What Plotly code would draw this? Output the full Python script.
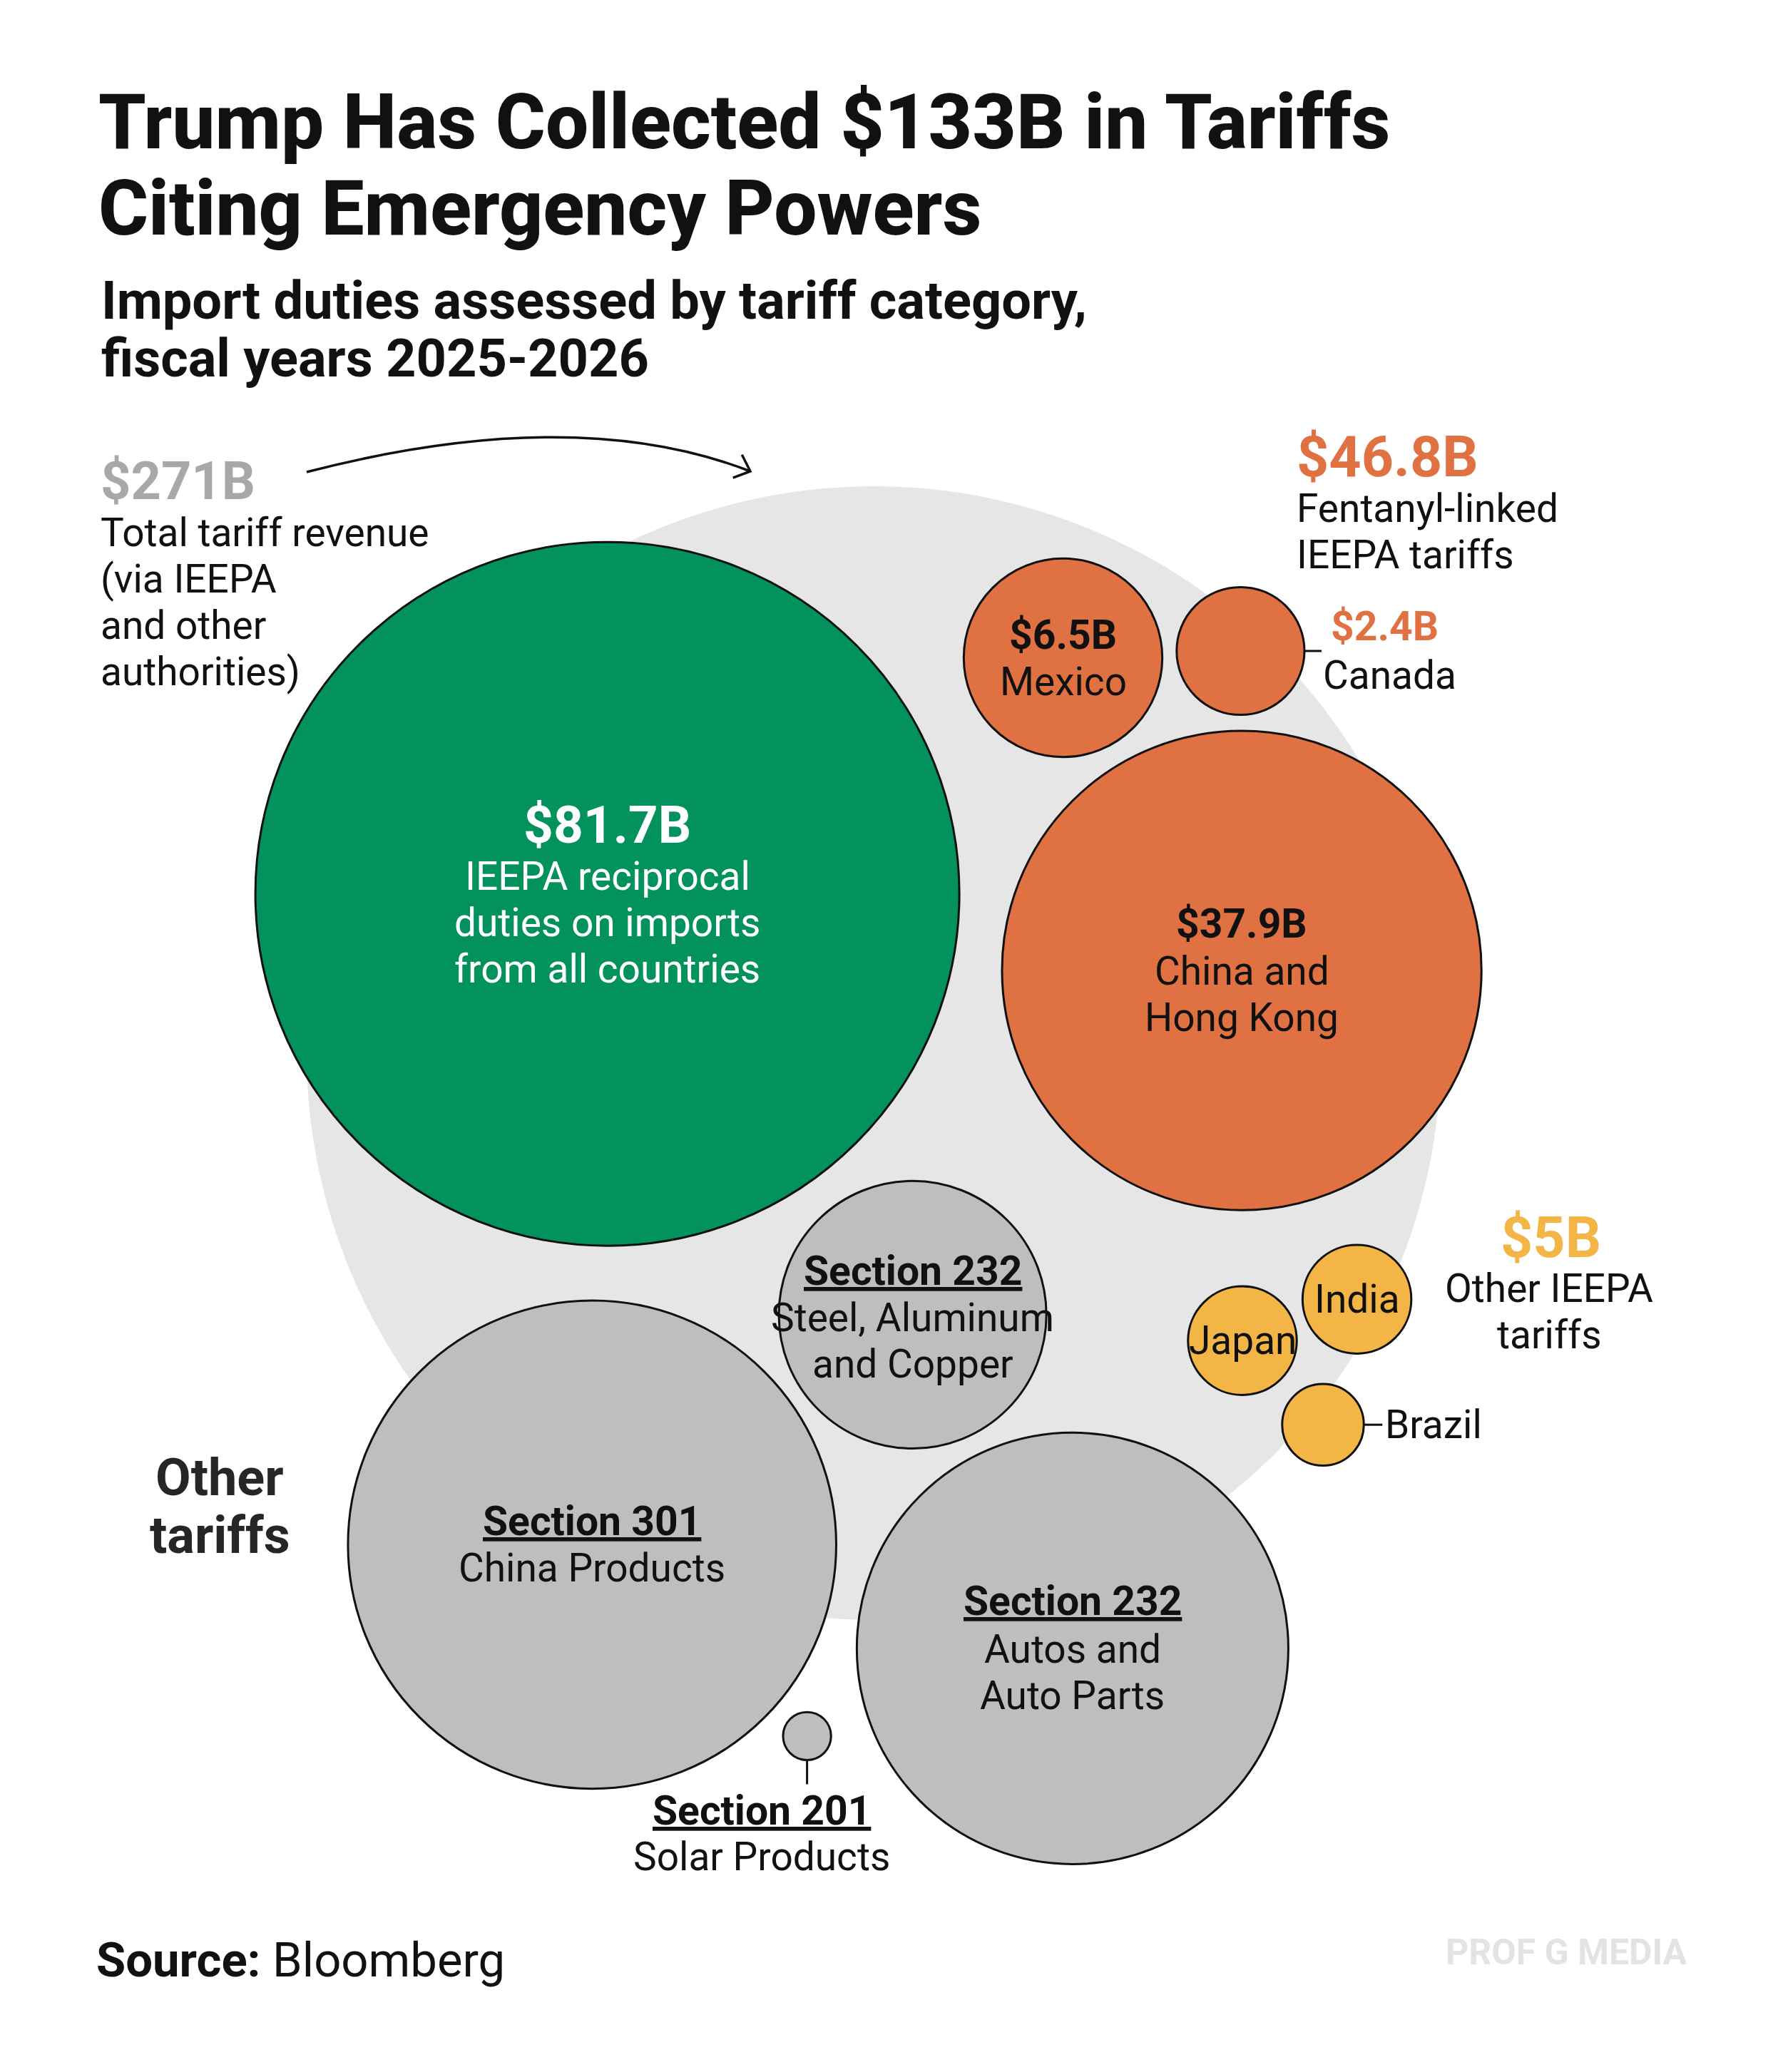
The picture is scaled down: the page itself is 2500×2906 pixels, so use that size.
import math
import plotly.graph_objects as go

W, H = 2500, 2906

# ---------------- data (US$ billions) ----------------
categories = [
    "IEEPA reciprocal duties", "China and Hong Kong", "Mexico", "Canada",
    "Japan", "India", "Brazil",
    "Section 301 China Products", "Section 232 Autos and Auto Parts",
    "Section 232 Steel, Aluminum and Copper", "Section 201 Solar Products",
]
values_bn = [81.7, 37.9, 6.5, 2.4, 1.95, 1.95, 1.1, 39.3, 30.7, 11.8, 0.38]
groups = ["reciprocal", "fentanyl", "fentanyl", "fentanyl",
          "other_ieepa", "other_ieepa", "other_ieepa",
          "other", "other", "other", "other"]
total_revenue_bn = 271
collected_bn = 133
fentanyl_total_bn = 46.8
other_ieepa_total_bn = 5

# ---------------- layout / style ----------------
K = 54.6  # px radius per sqrt($B)
centers = {
    "IEEPA reciprocal duties": (851.6, 1253.7),
    "China and Hong Kong": (1741.1, 1361.2),
    "Mexico": (1490.5, 922.5),
    "Canada": (1739.4, 913.0),
    "Japan": (1742.0, 1880.3),
    "India": (1902.6, 1822.2),
    "Brazil": (1855.0, 1998.2),
    "Section 301 China Products": (830.2, 2166.4),
    "Section 232 Autos and Auto Parts": (1503.9, 2311.9),
    "Section 232 Steel, Aluminum and Copper": (1279.6, 1843.9),
    "Section 201 Solar Products": (1131.6, 2434.8),
}
bg_center, bg_radius = (1225.0, 1477.0), 795.0

colors = {"reciprocal": "#03925d", "fentanyl": "#e07142",
          "other_ieepa": "#f3b646", "other": "#bdbec0"}
BG_GRAY = "#e6e6e6"
FONT = "Roboto, Noto Sans, sans-serif"
REG, BOLD = 55, 57

fig = go.Figure()
# invisible trace to instantiate axes
fig.add_trace(go.Scatter(x=[c[0] for c in centers.values()],
                         y=[c[1] for c in centers.values()],
                         mode="markers", marker=dict(opacity=0),
                         hoverinfo="skip", showlegend=False))

shapes = []
shapes.append(dict(type="circle", xref="x", yref="y",
                   x0=bg_center[0] - bg_radius, x1=bg_center[0] + bg_radius,
                   y0=bg_center[1] - bg_radius, y1=bg_center[1] + bg_radius,
                   fillcolor=BG_GRAY, line=dict(width=0), layer="below"))

radius = {}
for cat, v, g in zip(categories, values_bn, groups):
    r = K * math.sqrt(v)
    if cat == "Canada":
        r += 5  # slight visual padding as in the original
    radius[cat] = r
    cx, cy = centers[cat]
    shapes.append(dict(type="circle", xref="x", yref="y",
                       x0=cx - r, x1=cx + r, y0=cy - r, y1=cy + r,
                       fillcolor=colors[g], line=dict(color="#111111", width=3),
                       layer="above"))

# connectors
def hline(cat, length):
    cx, cy = centers[cat]
    r = radius[cat]
    shapes.append(dict(type="line", xref="x", yref="y", x0=cx + r, x1=cx + r + length,
                       y0=cy, y1=cy, line=dict(color="#111111", width=3)))

hline("Canada", 24)
hline("Brazil", 26)
cx, cy = centers["Section 201 Solar Products"]
r = radius["Section 201 Solar Products"]
shapes.append(dict(type="line", xref="x", yref="y", x0=cx, x1=cx, y0=cy + r, y1=cy + r + 34,
                   line=dict(color="#111111", width=3)))

# curved arrow
p0, pc, p2 = (430, 662), (805, 565), (1052, 661)
shapes.append(dict(type="path", xref="x", yref="y",
                   path=f"M {p0[0]},{p0[1]} Q {pc[0]},{pc[1]} {p2[0]},{p2[1]}",
                   line=dict(color="#111111", width=3.5)))
dx, dy = p2[0] - pc[0], p2[1] - pc[1]
ang = math.atan2(dy, dx)
wings = []
for s in (+1, -1):
    a = ang + math.pi + s * math.radians(42)
    wings.append((p2[0] + 26 * math.cos(a), p2[1] + 26 * math.sin(a)))
shapes.append(dict(type="path", xref="x", yref="y",
                   path=f"M {wings[0][0]:.1f},{wings[0][1]:.1f} L {p2[0]},{p2[1]} L {wings[1][0]:.1f},{wings[1][1]:.1f}",
                   line=dict(color="#111111", width=3.5)))

annotations = []

def txt(x, y, text, size=REG, color="#111111", xanchor="center", bold=False,
        underline=False, family=FONT, weight=None):
    f = dict(family=family, size=size, color=color)
    if bold:
        f["weight"] = weight if weight else "bold"
    if underline:
        f["lineposition"] = "under"
    annotations.append(dict(x=x, y=y, xref="x", yref="y", text=text, showarrow=False,
                            xanchor=xanchor, yanchor="middle", font=f))

def incircle(cat, lines):
    cx, cy = centers[cat]
    for (t, dyy, kw) in lines:
        txt(cx, cy + dyy, t, **kw)

incircle("IEEPA reciprocal duties", [
    ("$81.7B", -97, dict(size=73, bold=True, color="white")),
    ("IEEPA reciprocal", -25, dict(color="white")),
    ("duties on imports", 40, dict(color="white")),
    ("from all countries", 105, dict(color="white")),
])
incircle("China and Hong Kong", [
    ("$37.9B", -66, dict(size=BOLD, bold=True)),
    ("China and", 1, {}),
    ("Hong Kong", 66, {}),
])
incircle("Mexico", [
    ("$6.5B", -32, dict(size=BOLD, bold=True)),
    ("Mexico", 33, {}),
])
incircle("Section 232 Steel, Aluminum and Copper", [
    ("Section 232", -61, dict(size=BOLD, bold=True, underline=True)),
    ("Steel, Aluminum", 4, {}),
    ("and Copper", 69, {}),
])
incircle("Section 301 China Products", [
    ("Section 301", -33, dict(size=BOLD, bold=True, underline=True)),
    ("China Products", 33, {}),
])
incircle("Section 232 Autos and Auto Parts", [
    ("Section 232", -66, dict(size=BOLD, bold=True, underline=True)),
    ("Autos and", 1, {}),
    ("Auto Parts", 66, {}),
])
incircle("Japan", [("Japan", 0, {})])
incircle("India", [("India", 0, {})])

# Section 201 label
txt(1068, 2539, "Section 201", size=BOLD, bold=True, underline=True)
txt(1068, 2604, "Solar Products")
# Brazil label
txt(1940, 1998, "Brazil", xanchor="left")
# Canada label
txt(1864, 878, f"${values_bn[3]}B", size=BOLD, bold=True, color=colors["fentanyl"], xanchor="left")
txt(1853, 947, "Canada", xanchor="left")

# group labels
txt(1816, 641, f"${fentanyl_total_bn}B", size=79, bold=True, color=colors["fentanyl"], xanchor="left")
txt(1816, 713, "Fentanyl-linked", xanchor="left")
txt(1816, 778, "IEEPA tariffs", xanchor="left")

txt(2174, 1736, f"${other_ieepa_total_bn}B", size=79, bold=True, color=colors["other_ieepa"])
txt(2172, 1807, "Other IEEPA")
txt(2172, 1872, "tariffs")

txt(139, 674, f"${total_revenue_bn}B", size=74, bold=True, color="#a7a8aa", xanchor="left")
for i, t in enumerate(["Total tariff revenue", "(via IEEPA", "and other", "authorities)"]):
    txt(139, 747 + 65 * i, t, xanchor="left")

txt(308, 2072, "Other", size=72, bold=True, color="#262626")
txt(308, 2153, "tariffs", size=72, bold=True, color="#262626")

# title / subtitle / footer
txt(136, 171, f"Trump Has Collected ${collected_bn}B in Tariffs", size=107, bold=True,
    weight=800, xanchor="left")
txt(136, 292, "Citing Emergency Powers", size=107, bold=True, weight=800, xanchor="left")
txt(140, 421, "Import duties assessed by tariff category,", size=74, bold=True, xanchor="left")
txt(140, 502, "fiscal years 2025-2026", size=74, bold=True, xanchor="left")
txt(133, 2749, "<b>Source:</b> Bloomberg", size=67, xanchor="left")
txt(2196, 2738, "PROF G MEDIA", size=50, bold=True, color="#e3e3e3")

fig.update_layout(
    width=W, height=H, autosize=False,
    margin=dict(l=0, r=0, t=0, b=0, pad=0),
    paper_bgcolor="white", plot_bgcolor="white",
    xaxis=dict(range=[0, W], visible=False, fixedrange=True),
    yaxis=dict(range=[H, 0], visible=False, fixedrange=True),
    shapes=shapes, annotations=annotations, showlegend=False,
)

fig.write_html("out.html", config={"displayModeBar": False},
               post_script="document.body.style.margin='0';")
